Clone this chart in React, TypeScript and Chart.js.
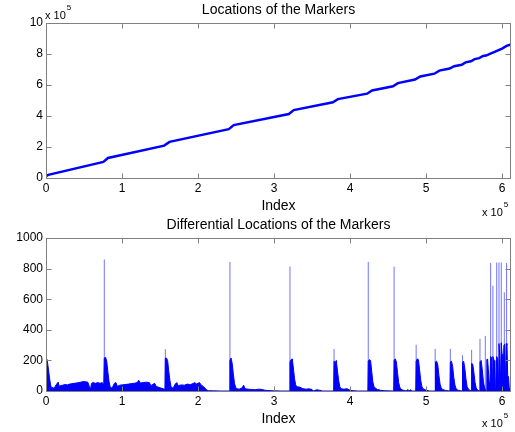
import React, { useEffect, useRef } from "react";
import { Chart, registerables } from "chart.js";

Chart.register(...registerables);

// ---------- Top plot: locations of the markers ----------
const locIndex = [0, 3000, 75500, 81500, 155500, 162500, 240500, 247000, 319500, 326000, 377500, 384000, 422500, 429000, 456500, 463000, 485500, 492500, 511000, 517500, 531000, 537000, 547000, 552000, 559000, 564000, 570000, 575000, 579000, 584000, 591000, 600000, 606000, 611800];
const locValue = [12000, 20000, 104000, 129000, 209000, 233000, 315000, 341000, 413000, 438000, 489000, 509000, 544000, 565000, 592000, 612000, 635000, 655000, 673000, 693000, 706000, 721000, 731000, 746000, 753000, 767000, 773000, 787000, 790000, 801000, 815000, 835000, 852000, 862000];
const locTicksY = [0, 200000, 400000, 600000, 800000, 1000000];

// ---------- Bottom plot: differential locations ----------
const diffIndex = [
  0, 1500, 3000, 4500, 6000, 7500, 9000, 10500, 12000, 14000, 16000, 17500, 19000, 22000, 25000, 28000, 31000, 34000, 37000, 40000, 43000, 46000, 49000, 52000, 55000, 57000, 58500, 60000, 62000, 65000, 68000, 71000, 74000, 76000,
  76700, 78500, 80000, 81500, 83000, 84500, 86000, 88000, 90000, 92000, 94000, 97000, 100000, 104000, 108000, 112000, 116000, 120000, 122000, 124000, 128000, 132000, 136000, 138000, 140000, 143000, 145000, 148000, 151000, 154000, 156500,
  157000, 158500, 160000, 161500, 163000, 164500, 166000, 168000, 170000, 172000, 174000, 178000, 182000, 186000, 190000, 194000, 196000, 198000, 202000, 204000, 207000, 210000, 212000, 214000, 220000, 230000, 241500,
  242000, 243500, 245000, 246500, 248000, 249500, 251000, 254000, 258000, 260000, 262000, 266000, 270000, 275000, 280000, 284000, 288000, 292000, 300000, 310000, 320500,
  321000, 322500, 324000, 325500, 327000, 328500, 330000, 334000, 338000, 342000, 346000, 350000, 352000, 356000, 360000, 364000, 378500,
  379000, 380500, 382000, 383500, 385000, 386500, 388000, 392000, 396000, 400000, 404000, 410000, 423500,
  424000, 425500, 427000, 428500, 430000, 431500, 433000, 436000, 440000, 445000, 457500,
  458000, 459500, 461000, 462500, 464000, 465500, 467000, 470000, 474000, 476000, 477000, 480000, 481000, 486500,
  487000, 488500, 490000, 491500, 493000, 494500, 496000, 500000, 505000, 512000,
  512500, 514000, 515500, 517000, 518500, 520000, 522000, 526000, 531500,
  532000, 533500, 535000, 536500, 538000, 539500, 542000, 547500,
  548000, 549500, 551000, 552500, 554000, 556000, 559500,
  560000, 561500, 563000, 564500, 566000, 568000, 570500,
  571000, 572500, 574000, 575500, 577000, 578500, 579500,
  580000, 581000, 582000, 583000, 584000,
  585000, 586500, 587500, 588000, 589500, 590500, 591500, 593000, 594500, 595500, 596000, 597000, 598000, 599000, 600000, 601000, 602500, 603500, 604500, 605500, 606500, 607500, 608500, 609500, 611800
];
const diffValue = [
  215, 205, 150, 90, 40, 15, 25, 12, 30, 45, 58, 30, 35, 38, 42, 40, 45, 48, 50, 52, 55, 58, 62, 60, 58, 30, 12, 50, 55, 50, 55, 50, 55, 40,
  215, 220, 190, 120, 60, 25, 20, 30, 50, 55, 30, 38, 40, 42, 45, 48, 50, 55, 70, 52, 55, 58, 55, 35, 42, 50, 30, 25, 20, 15, 10,
  215, 215, 200, 130, 70, 30, 20, 25, 45, 55, 35, 40, 38, 45, 42, 50, 55, 45, 55, 40, 30, 15, 5, 2, 1, 0, 0,
  200, 215, 180, 110, 50, 25, 15, 12, 20, 38, 15, 12, 10, 8, 12, 10, 5, 3, 1, 0, 0,
  190, 205, 210, 150, 80, 40, 28, 25, 15, 12, 14, 10, 0, 8, 5, 0, 0,
  195, 185, 200, 130, 70, 30, 15, 12, 15, 5, 2, 0, 0,
  195, 205, 200, 130, 60, 30, 20, 10, 5, 2, 0,
  200, 210, 190, 120, 55, 25, 12, 5, 0, 10, 0, 8, 0, 0,
  195, 210, 205, 140, 70, 30, 15, 5, 0, 0,
  190, 195, 170, 100, 45, 20, 10, 3, 0,
  190, 195, 160, 90, 40, 15, 5, 0,
  185, 195, 150, 80, 30, 10, 0,
  180, 175, 120, 55, 20, 5, 0,
  190, 200, 140, 60, 20, 5, 0,
  205, 210, 140, 60, 20,
  225, 215, 30, 225, 200, 25, 15, 225, 210, 30, 310, 230, 40, 315, 240, 30, 300, 305, 40, 310, 300, 90, 95, 20, 0
];
const diffTicksY = [0, 200, 400, 600, 800, 1000];

const spikeIndex = [76700, 157000, 242000, 321000, 379000, 424000, 458000, 487000, 512000, 532000, 548000, 560000, 571000, 578000, 585000, 588000, 593000, 596000, 599000, 603000, 606000];
const spikeValue = [859, 273, 844, 813, 275, 844, 813, 302, 275, 275, 234, 269, 341, 360, 837, 688, 840, 840, 840, 645, 837];

const indexTicks = [0, 100000, 200000, 300000, 400000, 500000, 600000];
const INDEX_MAX = 611800;

const FONT = "'Liberation Sans', Arial, Helvetica, sans-serif";
const BOX = "#808080";

function pointsOf(xs: number[], ys: number[]) {
  return xs.map((x, i) => ({ x, y: ys[i] }));
}

function spikeSegments(xs: number[], ys: number[]) {
  const out: { x: number; y: number | null }[] = [];
  xs.forEach((x, i) => {
    out.push({ x, y: 0 });
    out.push({ x, y: ys[i] });
    out.push({ x, y: null });
  });
  return out;
}

type TextSpec = { title: string; titleY: number; indexY: number; expY: number; expX: number; topExp?: boolean };

function matlabPlugin(spec: TextSpec) {
  return {
    id: "matlabDecor",
    afterDraw(chart: any) {
      const { ctx, chartArea } = chart;
      const xs = chart.scales.x;
      const ys = chart.scales.y;
      const L = Math.floor(chartArea.left) + 0.5;
      const R = Math.ceil(chartArea.right) - 0.5;
      const T = Math.floor(chartArea.top) + 0.5;
      const B = Math.floor(chartArea.bottom) + 0.5;
      ctx.save();
      ctx.strokeStyle = BOX;
      ctx.lineWidth = 1;
      ctx.strokeRect(L, T, R - L, B - T);
      const tl = 5;
      ctx.beginPath();
      xs.ticks.forEach((t: any) => {
        const px = Math.round(xs.getPixelForValue(t.value)) + 0.5;
        ctx.moveTo(px, B);
        ctx.lineTo(px, B - tl);
        ctx.moveTo(px, T);
        ctx.lineTo(px, T + tl);
      });
      ys.ticks.forEach((t: any) => {
        const py = Math.round(ys.getPixelForValue(t.value)) + 0.5;
        ctx.moveTo(L, py);
        ctx.lineTo(L + tl, py);
        ctx.moveTo(R, py);
        ctx.lineTo(R - tl, py);
      });
      ctx.stroke();

      ctx.fillStyle = "#000";
      ctx.textAlign = "center";
      ctx.textBaseline = "alphabetic";
      const cx = (chartArea.left + chartArea.right) / 2;
      ctx.font = `14px ${FONT}`;
      ctx.fillText(spec.title, cx, spec.titleY);
      ctx.fillText("Index", cx, spec.indexY);

      ctx.textAlign = "left";
      ctx.font = `11px ${FONT}`;
      ctx.fillText("x 10", spec.expX, spec.expY);
      const w = ctx.measureText("x 10").width;
      ctx.font = `8px ${FONT}`;
      ctx.fillText("5", spec.expX + w + 1, spec.expY - 9);

      if (spec.topExp) {
        ctx.font = `11px ${FONT}`;
        ctx.fillText("x 10", 45, 18.5);
        const w2 = ctx.measureText("x 10").width;
        ctx.font = `8px ${FONT}`;
        ctx.fillText("5", 45 + w2 + 1, 10);
      }
      ctx.restore();
    },
  };
}

function baseScales(yMax: number, yTicks: number[], yDiv: number, xHeight: number) {
  return {
    x: {
      type: "linear" as const,
      min: 0,
      max: INDEX_MAX,
      grid: { display: false, drawTicks: false },
      border: { display: false },
      afterBuildTicks: (s: any) => {
        s.ticks = indexTicks.map((v) => ({ value: v }));
      },
      afterFit: (s: any) => {
        s.height = xHeight;
      },
      ticks: {
        autoSkip: false,
        maxRotation: 0,
        padding: 3,
        color: "#000",
        font: { family: FONT, size: 12 },
        callback: (v: any) => String(Number(v) / 100000),
      },
    },
    y: {
      type: "linear" as const,
      min: 0,
      max: yMax,
      grid: { display: false, drawTicks: false },
      border: { display: false },
      afterBuildTicks: (s: any) => {
        s.ticks = yTicks.map((v) => ({ value: v }));
      },
      afterFit: (s: any) => {
        s.width = 46;
      },
      ticks: {
        autoSkip: false,
        padding: 3,
        color: "#000",
        font: { family: FONT, size: 12 },
        callback: (v: any) => String(Number(v) / yDiv),
      },
    },
  };
}

function TopChart() {
  const ref = useRef<HTMLCanvasElement>(null);
  useEffect(() => {
    const chart = new Chart(ref.current!, {
      type: "line",
      data: {
        datasets: [
          {
            data: pointsOf(locIndex, locValue),
            borderColor: "#0000ff",
            borderWidth: 2.5,
            pointRadius: 0,
            fill: false,
            tension: 0,
          },
        ],
      },
      options: {
        animation: false,
        responsive: false,
        devicePixelRatio: 1,
        events: [],
        layout: { padding: { top: 23, right: 4, left: 0, bottom: 0 } },
        plugins: { legend: { display: false }, tooltip: { enabled: false } },
        scales: baseScales(1000000, locTicksY, 100000, 38) as any,
      },
      plugins: [
        matlabPlugin({ title: "Locations of the Markers", titleY: 13.5, indexY: 210, expX: 482, expY: 215.5, topExp: true }),
      ],
    });
    return () => chart.destroy();
  }, []);
  return <canvas ref={ref} width={515} height={216} style={{ display: "block" }} />;
}

function BottomChart() {
  const ref = useRef<HTMLCanvasElement>(null);
  useEffect(() => {
    const chart = new Chart(ref.current!, {
      type: "line",
      data: {
        datasets: [
          {
            data: pointsOf(diffIndex, diffValue),
            borderColor: "#0000ff",
            backgroundColor: "#0000ff",
            borderWidth: 1,
            pointRadius: 0,
            fill: "origin",
            tension: 0,
          },
          {
            data: spikeSegments(spikeIndex, spikeValue) as any,
            borderColor: "#7373ff",
            borderWidth: 1,
            pointRadius: 0,
            fill: false,
            spanGaps: false,
            tension: 0,
          },
        ],
      },
      options: {
        animation: false,
        responsive: false,
        devicePixelRatio: 1,
        events: [],
        layout: { padding: { top: 22, right: 4, left: 0, bottom: 0 } },
        plugins: { legend: { display: false }, tooltip: { enabled: false } },
        scales: baseScales(1000, diffTicksY, 1, 41) as any,
      },
      plugins: [
        matlabPlugin({ title: "Differential Locations of the Markers", titleY: 13, indexY: 207, expX: 482, expY: 211 }),
      ],
    });
    return () => chart.destroy();
  }, []);
  return <canvas ref={ref} width={515} height={216} style={{ display: "block" }} />;
}

export default function App() {
  return (
    <div style={{ position: "fixed", left: 0, top: 0, width: 515, height: 432, background: "#fff" }}>
      <TopChart />
      <BottomChart />
    </div>
  );
}
